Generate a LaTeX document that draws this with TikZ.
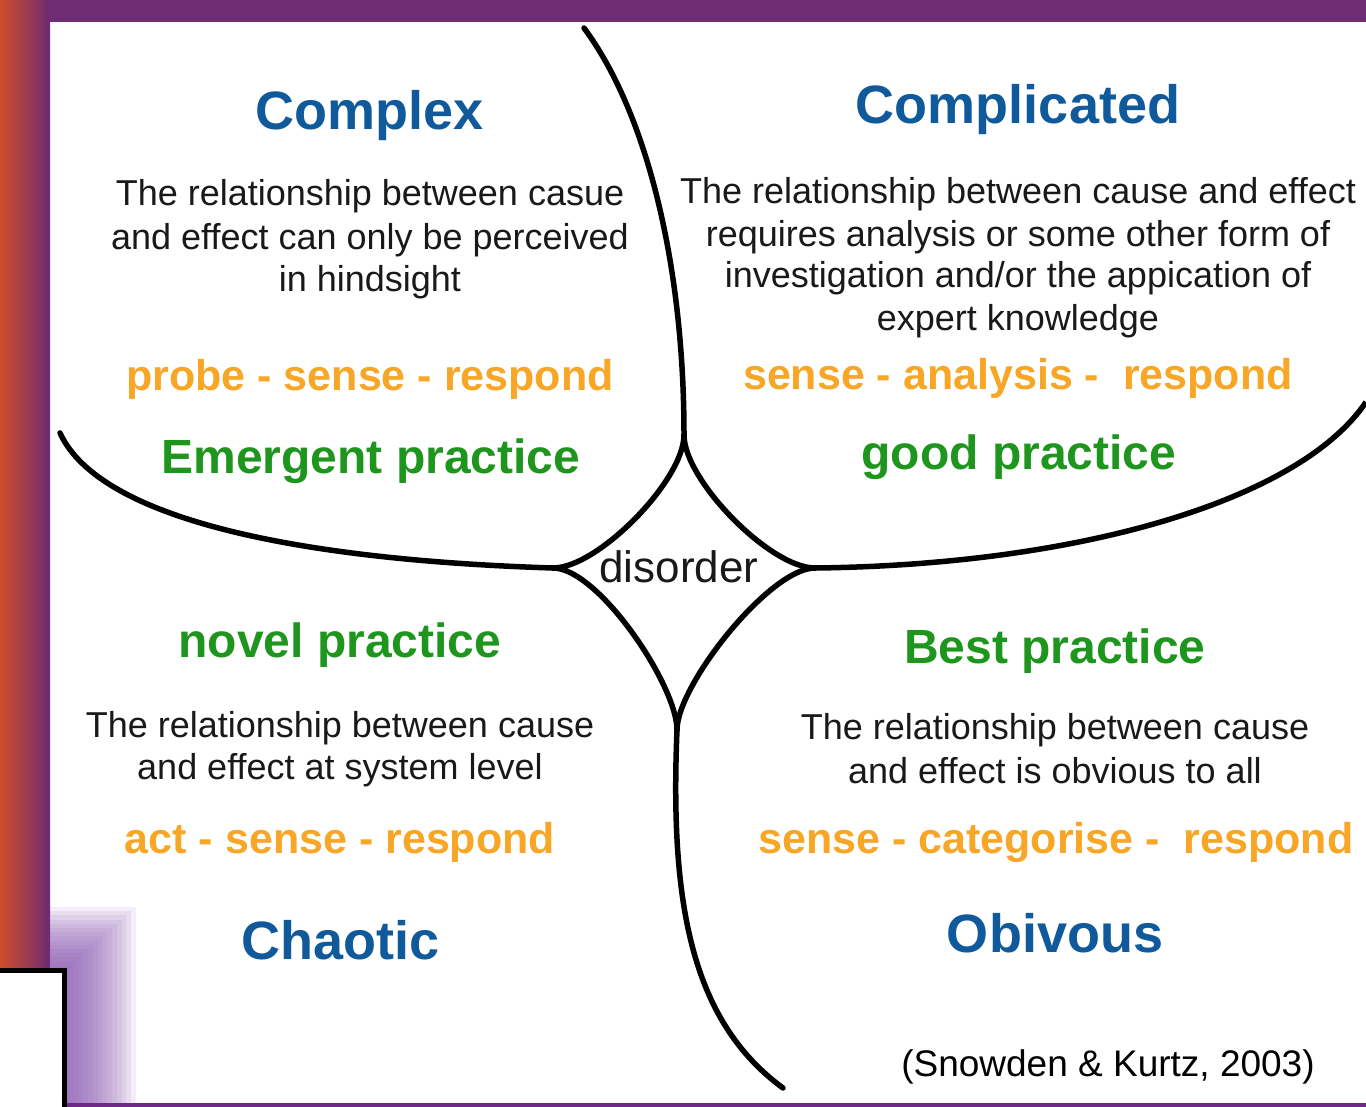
\documentclass[tikz,border=0pt]{standalone}
\usepackage{fontspec}
\setmainfont{Liberation Sans}
\definecolor{cblue}{RGB}{16,90,155}
\definecolor{corange}{RGB}{247,166,38}
\definecolor{cgreen}{RGB}{30,150,30}
\definecolor{cbody}{RGB}{25,25,25}
\definecolor{fpurple}{RGB}{110,44,115}
\definecolor{fpurple2}{RGB}{112,40,135}
\definecolor{forange}{RGB}{208,76,44}
\definecolor{fglow}{RGB}{140,90,180}
\begin{document}
\begin{tikzpicture}[x=1pt,y=-1pt,
  title/.style={font=\fontsize{54}{60}\selectfont\bfseries, text=cblue, anchor=base, inner sep=0pt},
  body/.style={font=\fontsize{36}{43}\selectfont, text=cbody, anchor=base, inner sep=0pt},
  method/.style={font=\fontsize{43}{50}\selectfont\bfseries, text=corange, anchor=base, inner sep=0pt},
  practice/.style={font=\fontsize{48}{55}\selectfont\bfseries, text=cgreen, anchor=base, inner sep=0pt},
  curve/.style={draw=black, line width=5.5pt, line cap=round}]
\useasboundingbox (0,0) rectangle (1366,1107);
% frame
\fill[white] (0,0) rectangle (1366,1107);
\fill[fpurple] (0,0) rectangle (1366,22);
\shade[left color=forange, right color=fpurple] (0,0) rectangle (50,968);
\fill[fpurple] (45,0) rectangle (50,968);
\foreach \k in {1,...,15} {
  \fill[fglow, opacity=0.1] (50,{970-4.2*\k}) rectangle ({64+4.8*\k},1103);
}
\fill[fpurple2] (66,1103) rectangle (1366,1107);
\fill[white] (0,970) rectangle (64,1107);
\draw[black, line width=5pt] (0,970) -- (64,970) -- (64,1107);
% cusps and ends
\coordinate (T) at (684,435);
\coordinate (L) at (553,568);
\coordinate (R) at (815,568);
\coordinate (B) at (677,730);
\coordinate (TopEnd) at (584,28);
\coordinate (LeftEnd) at (60,433);
\coordinate (RightEnd) at (1366,402);
\coordinate (BotEnd) at (783,1088);
\draw[curve] (TopEnd) .. controls (645,110) and (684,260) .. (T);
\draw[curve] (T) .. controls (684,480) and (598,568) .. (L);
\draw[curve] (T) .. controls (684,480) and (770,568) .. (R);
\draw[curve] (L) .. controls (598,568) and (677,685) .. (B);
\draw[curve] (R) .. controls (770,568) and (677,685) .. (B);
\draw[curve] (LeftEnd) .. controls (100,520) and (300,560) .. (L);
\draw[curve, line cap=butt] (R) .. controls (1080,565) and (1300,500) .. (RightEnd);
\draw[curve] (B) .. controls (670,900) and (690,1020) .. (BotEnd);
% Complex
\node[title] (complex) at (370,130) {Complex};
\node[body] (cx1) at (370,206) {The relationship between casue};
\node[body] (cx2) at (370,250) {and effect can only be perceived};
\node[body] (cx3) at (370,292) {in hindsight};
\node[method] (cxm) at (370,390) {probe - sense - respond};
\node[practice] (cxp) at (371,473) {Emergent practice};
% Complicated
\node[title] (complicated) at (1018,124) {Complicated};
\node[body] (cd1) at (1018,204) {The relationship between cause and effect};
\node[body] (cd2) at (1018,247) {requires analysis or some other form of};
\node[body] (cd3) at (1018,288) {investigation and/or the appication of};
\node[body] (cd4) at (1018,331) {expert knowledge};
\node[method] (cdm) at (1018,389) {sense - analysis -\ \ respond};
\node[practice] (cdp) at (1019,469) {good practice};
% disorder
\node[body, font=\fontsize{44}{50}\selectfont] (disorder) at (679,582) {disorder};
% Chaotic
\node[practice] (chp) at (340,657) {novel practice};
\node[body] (ch1) at (340,737) {The relationship between cause};
\node[body] (ch2) at (340,779) {and effect at system level};
\node[method] (chm) at (340,853) {act - sense - respond};
\node[title] (chaotic) at (341,959) {Chaotic};
% Obvious
\node[practice] (obp) at (1055,663) {Best practice};
\node[body] (ob1) at (1055,739) {The relationship between cause};
\node[body] (ob2) at (1055,783) {and effect is obvious to all};
\node[method] (obm) at (1056,853) {sense - categorise -\ \ respond};
\node[title] (obvious) at (1055,952) {Obivous};
% citation
\node[body, font=\fontsize{37}{43}\selectfont, text=black] (cite) at (1108,1076) {(Snowden \& Kurtz, 2003)};
\end{tikzpicture}
\end{document}
